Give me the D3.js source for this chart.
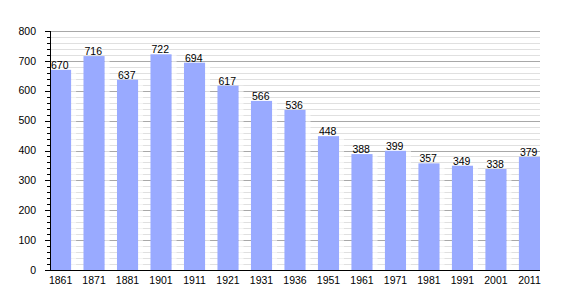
<!DOCTYPE html>
<html>
<head>
<meta charset="utf-8">
<script src="https://cdn.jsdelivr.net/npm/d3@7"></script>
<style>
  body { margin: 0; background: #fff; }
  text { font-family: "Liberation Sans", Arial, sans-serif; }
</style>
</head>
<body>
<div id="chart"></div>
<script>
// data
var years = ['1861','1871','1881','1901','1911','1921','1931','1936','1951','1961','1971','1981','1991','2001','2011'];
var population = [670, 716, 637, 722, 694, 617, 566, 536, 448, 388, 399, 357, 349, 338, 379];
var yTicks = [0, 100, 200, 300, 400, 500, 600, 700, 800];

var W = 570, H = 300;
var margin = {top: 31, right: 30, bottom: 30, left: 50},
    width = W - margin.left - margin.right,
    height = H - margin.top - margin.bottom;

var svg = d3.select("#chart")
    .append("svg")
    .attr("width", W)
    .attr("height", H)
    .append("g")
    .attr("transform", "translate(" + margin.left + "," + margin.top + ")");

var x = d3.scaleBand()
    .domain(years)
    .range([0, width])
    .paddingInner(0.37)
    .paddingOuter(0);

var y = d3.scaleLinear()
    .domain([0, 800])
    .range([height, 0]);

// minor gridlines every 20
svg.append("g")
    .selectAll("line")
    .data(d3.range(20, 800, 20).filter(function(v){ return v % 100 != 0; }))
    .enter()
    .append("line")
    .attr("x1", 0).attr("x2", width)
    .attr("y1", function(d){ return Math.round(y(d)) + 0.5; })
    .attr("y2", function(d){ return Math.round(y(d)) + 0.5; })
    .style("stroke", "#e0e0e0");

// major gridlines
svg.append("g")
    .selectAll("line")
    .data(yTicks.slice(1))
    .enter()
    .append("line")
    .attr("x1", 0).attr("x2", width)
    .attr("y1", function(d){ return Math.round(y(d)) + 0.5; })
    .attr("y2", function(d){ return Math.round(y(d)) + 0.5; })
    .style("stroke", "#a8a8a8");

// soft halo to the right of each bar
svg.selectAll("halo")
    .data(population)
    .enter()
    .append("rect")
    .attr("x", function(d,i){ return x(years[i]) + x.bandwidth(); })
    .attr("y", function(d){ return y(d); })
    .attr("width", 5)
    .attr("height", function(d){ return height - y(d); })
    .attr("fill", "#ffffff")
    .attr("opacity", 0.6);

// bars
svg.selectAll("bars")
    .data(population)
    .enter()
    .append("rect")
    .attr("x", function(d,i){ return x(years[i]); })
    .attr("y", function(d){ return y(d); })
    .attr("width", x.bandwidth())
    .attr("height", function(d){ return height - y(d); })
    .attr("fill", "#99aaff");

// value labels
svg.selectAll("vals")
    .data(population)
    .enter()
    .append("text")
    .attr("x", function(d,i){ return x(years[i]) + 1; })
    .attr("y", function(d){ return y(d) - 1; })
    .text(function(d){ return d; })
    .style("font-size", "10.5px")
    .style("fill", "#000");

// y axis with minor ticks
svg.append("g")
    .selectAll("line")
    .data(d3.range(0, 801, 20))
    .enter()
    .append("line")
    .attr("x1", function(d){ return d % 100 == 0 ? -5 : -3; })
    .attr("x2", 0)
    .attr("y1", function(d){ return Math.round(y(d)) + 0.5; })
    .attr("y2", function(d){ return Math.round(y(d)) + 0.5; })
    .style("stroke", "#000");

svg.append("line")
    .attr("x1", 0.5).attr("x2", 0.5)
    .attr("y1", y(800)).attr("y2", height)
    .style("stroke", "#000");

svg.append("g")
    .selectAll("text")
    .data(yTicks)
    .enter()
    .append("text")
    .attr("x", -14)
    .attr("y", function(d){ return y(d); })
    .attr("dy", "0.35em")
    .attr("text-anchor", "end")
    .text(function(d){ return d; })
    .style("font-size", "10.5px");

// x axis
svg.append("line")
    .attr("x1", 0).attr("x2", width)
    .attr("y1", height + 0.5).attr("y2", height + 0.5)
    .style("stroke", "#000");

svg.append("g")
    .selectAll("text")
    .data(years)
    .enter()
    .append("text")
    .attr("x", function(d){ return x(d) + x.bandwidth() / 2; })
    .attr("y", height + 14)
    .attr("text-anchor", "middle")
    .text(function(d){ return d; })
    .style("font-size", "10.5px");
</script>
</body>
</html>
